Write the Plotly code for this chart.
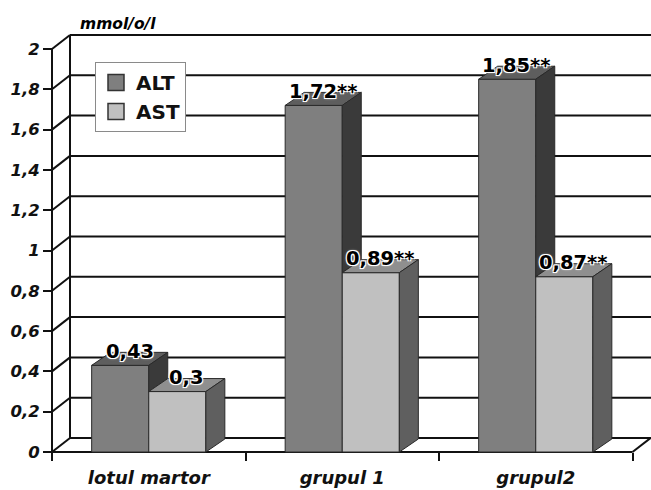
import plotly.graph_objects as go

# ---------------- data ----------------
categories = ["lotul martor", "grupul 1", "grupul2"]
series_names = ["ALT", "AST"]
alt_values = [0.43, 1.72, 1.85]
ast_values = [0.30, 0.89, 0.87]
alt_labels = ["0,43", "1,72**", "1,85**"]
ast_labels = ["0,3", "0,89**", "0,87**"]
y_tickvals = [0, 0.2, 0.4, 0.6, 0.8, 1.0, 1.2, 1.4, 1.6, 1.8, 2.0]
y_ticktext = ["0", "0,2", "0,4", "0,6", "0,8", "1", "1,2", "1,4", "1,6", "1,8", "2"]
y_title = "mmol/o/l"

# ---------------- geometry / style ----------------
FIG_W, FIG_H = 651, 490
ML, MR, MT, MB = 40, 0, 25, 26
PX_X = 193.5          # pixels per category
PX_Y = 201.5          # pixels per value unit
X0_PX = 52            # pixel of the front value axis
Y0_PX = 452           # pixel of value 0 on the front plane
plot_w = FIG_W - ML - MR
plot_h = FIG_H - MT - MB
x_range = [-0.5 - (X0_PX - ML) / PX_X, -0.5 + (FIG_W - MR - X0_PX) / PX_X]
y_range = [-(FIG_H - MB - Y0_PX) / PX_Y, (Y0_PX - MT) / PX_Y]

DXW, DYW = 18 / PX_X, 14 / PX_Y      # wall depth
DXB_PX, DYB_PX = 19, 13
DXB, DYB = DXB_PX / PX_X, DYB_PX / PX_Y  # bar depth
BAR_W = 0.295

front_cols = ["#7f7f7f", "#c0c0c0"]
top_cols = ["#5e5e5e", "#8f8f8f"]
side_cols = ["#3a3a3a", "#5f5f5f"]
EDGE = "#2a2a2a"
LINE = "#111111"
FONT = "DejaVu Sans"

xs = list(range(len(categories)))
fig = go.Figure()

# front faces (bars)
for k, (name, vals) in enumerate(zip(series_names, [alt_values, ast_values])):
    fig.add_trace(go.Bar(
        x=xs, y=vals, width=BAR_W, offset=-BAR_W if k == 0 else 0,
        marker=dict(color=front_cols[k], line=dict(color=EDGE, width=1)),
        name=name, legendgroup=name, showlegend=False, hoverinfo="skip",
    ))


def poly_trace(polys, color):
    px, py = [], []
    for poly in polys:
        for (a, b) in poly:
            px.append(a)
            py.append(b)
        px.append(poly[0][0])
        py.append(poly[0][1])
        px.append(None)
        py.append(None)
    return go.Scatter(x=px, y=py, mode="lines", fill="toself", fillcolor=color,
                      line=dict(color=EDGE, width=1), showlegend=False,
                      hoverinfo="skip")


alt_top, alt_side, ast_top, ast_side = [], [], [], []
for i, (a, s) in enumerate(zip(alt_values, ast_values)):
    xl, xm, xr = i - BAR_W, i, i + BAR_W
    alt_top.append([(xl, a), (xm, a), (xm + DXB, a + DYB), (xl + DXB, a + DYB)])
    alt_side.append([(xm, s), (xm + DXB, s + DYB), (xm + DXB, a + DYB), (xm, a)])
    ast_top.append([(xm, s), (xr, s), (xr + DXB, s + DYB), (xm + DXB, s + DYB)])
    ast_side.append([(xr, 0), (xr + DXB, DYB), (xr + DXB, s + DYB), (xr, s)])

fig.add_trace(poly_trace(alt_top, top_cols[0]))
fig.add_trace(poly_trace(alt_side, side_cols[0]))
fig.add_trace(poly_trace(ast_top, top_cols[1]))
fig.add_trace(poly_trace(ast_side, side_cols[1]))

# legend entries
for k, name in enumerate(series_names):
    fig.add_trace(go.Scatter(
        x=[None], y=[None], mode="markers", name=name, legendgroup=name,
        marker=dict(symbol="square", size=16, color=front_cols[k],
                    line=dict(color="#333333", width=1.5)),
    ))

# walls / grid (below traces)
shapes = []
for v in y_tickvals:
    shapes.append(dict(type="line", xref="x", yref="y", layer="below",
                       x0=-0.5, y0=v, x1=-0.5 + DXW, y1=v + DYW,
                       line=dict(color=LINE, width=2)))
    shapes.append(dict(type="line", xref="x", yref="y", layer="below",
                       x0=-0.5 + DXW, y0=v + DYW, x1=x_range[1] + 0.05, y1=v + DYW,
                       line=dict(color=LINE, width=2)))
shapes.append(dict(type="line", xref="x", yref="y", layer="below",
                   x0=-0.5, y0=0, x1=-0.5, y1=max(y_tickvals),
                   line=dict(color=LINE, width=2)))
shapes.append(dict(type="line", xref="x", yref="y", layer="below",
                   x0=-0.5 + DXW, y0=DYW, x1=-0.5 + DXW, y1=max(y_tickvals) + DYW,
                   line=dict(color=LINE, width=2)))
x_end = len(categories) - 0.5
shapes.append(dict(type="line", xref="x", yref="y", layer="below",
                   x0=-0.5, y0=0, x1=x_end, y1=0,
                   line=dict(color=LINE, width=2)))
shapes.append(dict(type="line", xref="x", yref="y", layer="below",
                   x0=x_end, y0=0, x1=x_end + DXW, y1=DYW,
                   line=dict(color=LINE, width=2)))

# value labels
halo = ("-1px -1px 0 #fff, 1px -1px 0 #fff, -1px 1px 0 #fff, 1px 1px 0 #fff, "
        "0 0 3px #fff")
annotations = []
for i in xs:
    for k, (vals, labs) in enumerate([(alt_values, alt_labels), (ast_values, ast_labels)]):
        cx = i - BAR_W / 2 if k == 0 else i + BAR_W / 2
        annotations.append(dict(
            x=cx, y=vals[i], xref="x", yref="y", text=labs[i], showarrow=False,
            xshift=DXB_PX / 2, yshift=DYB_PX + 1, yanchor="middle", xanchor="center",
            font=dict(family=FONT, size=19.5, color="#000", weight="bold", shadow=halo),
        ))
annotations.append(dict(
    x=(118 - ML) / plot_w, y=(FIG_H - MB - 24) / plot_h, xref="paper", yref="paper",
    text=y_title, showarrow=False, xanchor="center", yanchor="middle",
    font=dict(family=FONT, size=15.5, color="#000", weight="bold", style="italic"),
))

fig.update_layout(
    width=FIG_W, height=FIG_H,
    margin=dict(l=ML, r=MR, t=MT, b=MB, pad=0),
    paper_bgcolor="white", plot_bgcolor="white",
    barmode="overlay",
    showlegend=True,
    legend=dict(
        x=(95 - ML) / plot_w, y=(FIG_H - MB - 62) / plot_h,
        xanchor="left", yanchor="top",
        bgcolor="white", bordercolor="#8a8a8a", borderwidth=1,
        font=dict(family=FONT, size=20, color="#111", weight="bold"),
        tracegroupgap=0,
    ),
    xaxis=dict(
        range=x_range, domain=[0, 1], anchor="free",
        position=(FIG_H - MB - Y0_PX) / plot_h,
        tickvals=xs, ticktext=categories, ticks="", showgrid=False,
        zeroline=False, showline=False,
        tickfont=dict(family=FONT, size=18, color="#111", weight="bold", style="italic"),
        ticklabelstandoff=13,
        minor=dict(tickvals=[x - 0.5 for x in xs] + [x_end], ticks="outside",
                   ticklen=8, tickwidth=2, tickcolor=LINE, showgrid=False),
        fixedrange=True,
    ),
    yaxis=dict(
        range=y_range, domain=[0, 1], anchor="free",
        position=(X0_PX - ML) / plot_w,
        tickvals=y_tickvals, ticktext=y_ticktext, ticks="outside", ticklen=9,
        tickwidth=2, tickcolor=LINE, showgrid=False, zeroline=False, showline=False,
        tickfont=dict(family=FONT, size=16.5, color="#111", weight="bold", style="italic"),
        fixedrange=True,
    ),
    shapes=shapes,
    annotations=annotations,
)

fig.write_html("out.html")
